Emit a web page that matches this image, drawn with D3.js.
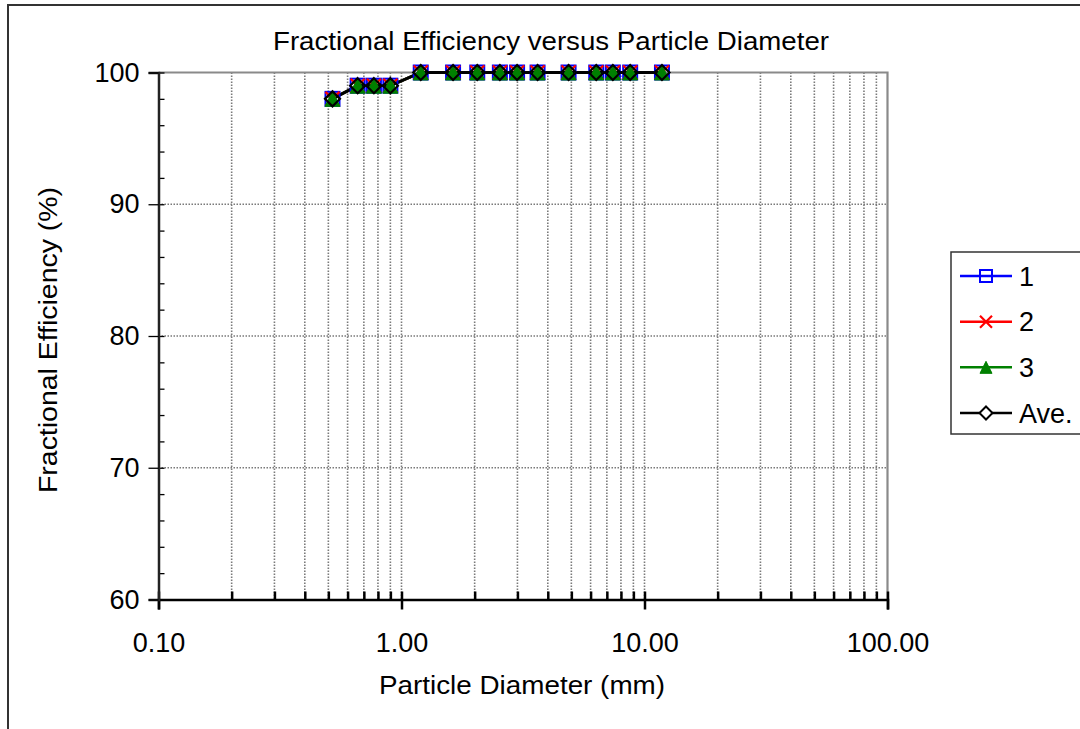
<!DOCTYPE html>
<html>
<head>
<meta charset="utf-8">
<script src="https://cdn.jsdelivr.net/npm/d3@7"></script>
<style>
  html, body { margin: 0; padding: 0; background: #fff; }
  svg { display: block; }
  text { font-family: "Liberation Sans", Arial, sans-serif; fill: #000; }
</style>
</head>
<body>
<svg id="chart" width="1080" height="729"></svg>
<script>
// ---- data ----
const diameters = [0.52, 0.66, 0.77, 0.90, 1.20, 1.63, 2.05, 2.54, 2.99, 3.63, 4.87, 6.33, 7.41, 8.73, 11.8];
const series1 = [98, 99, 99, 99, 100, 100, 100, 100, 100, 100, 100, 100, 100, 100, 100];
const series2 = [98, 99, 99, 99, 100, 100, 100, 100, 100, 100, 100, 100, 100, 100, 100];
const series3 = [98, 99, 99, 99, 100, 100, 100, 100, 100, 100, 100, 100, 100, 100, 100];
const seriesAve = [98, 99, 99, 99, 100, 100, 100, 100, 100, 100, 100, 100, 100, 100, 100];
const seriesNames = ["1", "2", "3", "Ave."];
const xMajorTicks = [0.1, 1, 10, 100];
const xTickLabels = ["0.10", "1.00", "10.00", "100.00"];
const yMajorTicks = [60, 70, 80, 90, 100];
const titleText = "Fractional Efficiency versus Particle Diameter";
const xTitle = "Particle Diameter (mm)";
const yTitle = "Fractional Efficiency (%)";

const svg = d3.select("#chart");

// outer chart border (extends off the right/bottom edges)
svg.append("path").attr("d", "M8,731 L8,5 L1082,5")
  .attr("fill", "none").attr("stroke", "#333").attr("stroke-width", 2);

const x = d3.scaleLog().domain([0.1, 100]).range([158.5, 887.5]);
const y = d3.scaleLinear().domain([60, 100]).range([599.5, 72.5]);

// minor x values
const xMinor = [];
[0.1, 1, 10].forEach(d => { for (let k = 2; k <= 9; k++) xMinor.push(+(d * k).toPrecision(3)); });
const xGrid = xMinor.concat([1, 10]);
const yMinor = d3.range(60, 100.01, 2);

// gridlines
const gridG = svg.append("g");
gridG.selectAll("line.vg").data(xGrid).join("line")
  .attr("x1", d => x(d)).attr("x2", d => x(d))
  .attr("y1", y(100)).attr("y2", y(60))
  .attr("stroke", "#7a7a7a").attr("stroke-width", 1.6).attr("stroke-dasharray", "1.5,1.5");
gridG.selectAll("line.hg").data([70, 80, 90]).join("line")
  .attr("x1", x(0.1)).attr("x2", x(100))
  .attr("y1", d => y(d)).attr("y2", d => y(d))
  .attr("stroke", "#7a7a7a").attr("stroke-width", 1.6).attr("stroke-dasharray", "1.5,1.5");

// plot border top & right (gray)
svg.append("path")
  .attr("d", `M${x(0.1)},${y(100)} L${x(100)},${y(100)} L${x(100)},${y(60)}`)
  .attr("fill", "none").attr("stroke", "#8a8a8a").attr("stroke-width", 2.2);

// x axis: minor ticks (upward)
const xMinorAxis = d3.axisBottom(x).tickValues(xMinor).tickSize(-8).tickFormat("");
svg.append("g").attr("transform", `translate(0,${y(60)})`).call(xMinorAxis)
  .call(g => g.select(".domain").remove())
  .call(g => g.selectAll("line").attr("stroke", "#000").attr("stroke-width", 2.5));
// x axis: major ticks (downward) with labels
const xMajorAxis = d3.axisBottom(x).tickValues(xMajorTicks).tickSize(10).tickPadding(23)
  .tickFormat((d, i) => xTickLabels[i]);
svg.append("g").attr("transform", `translate(0,${y(60)})`).call(xMajorAxis)
  .call(g => g.select(".domain").attr("stroke", "#000").attr("stroke-width", 2.5))
  .call(g => g.selectAll("line").attr("stroke", "#000").attr("stroke-width", 2.5).attr("y1", -8))
  .call(g => g.selectAll("text").attr("font-size", 27).attr("font-family", "Liberation Sans, Arial, sans-serif"));

// y axis: minor ticks (inward)
const yMinorAxis = d3.axisLeft(y).tickValues(yMinor).tickSize(-6).tickFormat("");
svg.append("g").attr("transform", `translate(${x(0.1)},0)`).call(yMinorAxis)
  .call(g => g.select(".domain").remove())
  .call(g => g.selectAll("line").attr("stroke", "#000").attr("stroke-width", 1.3));
const yMajorAxis = d3.axisLeft(y).tickValues(yMajorTicks).tickSize(10).tickPadding(9).tickFormat(d3.format("d"));
svg.append("g").attr("transform", `translate(${x(0.1)},0)`).call(yMajorAxis)
  .call(g => g.select(".domain").attr("stroke", "#222").attr("stroke-width", 2.5))
  .call(g => g.selectAll("line").attr("stroke", "#000").attr("stroke-width", 1.3))
  .call(g => g.selectAll("text").attr("font-size", 27).attr("font-family", "Liberation Sans, Arial, sans-serif"));

// series
const allSeries = [
  { name: seriesNames[0], vals: series1, color: "#0000ff", marker: "square" },
  { name: seriesNames[1], vals: series2, color: "#ff0000", marker: "x" },
  { name: seriesNames[2], vals: series3, color: "#008000", marker: "triangle" },
  { name: seriesNames[3], vals: seriesAve, color: "#000000", marker: "diamond" }
];

function drawMarker(g, type, color, s) {
  const h = s / 2;
  if (type === "square") {
    g.append("rect").attr("x", -h).attr("y", -h).attr("width", s).attr("height", s)
      .attr("fill", "none").attr("stroke", color).attr("stroke-width", 2);
  } else if (type === "x") {
    g.append("path").attr("d", `M${-h},${-h}L${h},${h}M${-h},${h}L${h},${-h}`)
      .attr("stroke", color).attr("stroke-width", 2.2).attr("fill", "none");
  } else if (type === "triangle") {
    g.append("path").attr("d", `M0,${-h}L${h},${h}L${-h},${h}Z`)
      .attr("fill", color).attr("stroke", color).attr("stroke-width", 1);
  } else if (type === "diamond") {
    g.append("path").attr("d", `M0,${-h}L${h},0L0,${h}L${-h},0Z`)
      .attr("fill", "none").attr("stroke", color).attr("stroke-width", 2.2);
  }
}

const line = d3.line().x(d => x(d[0])).y(d => y(d[1]));
allSeries.forEach(s => {
  const pts = diameters.map((d, i) => [d, s.vals[i]]);
  svg.append("path").datum(pts).attr("d", line)
    .attr("fill", "none").attr("stroke", s.color).attr("stroke-width", 2.8);
});
allSeries.forEach(s => {
  const size = s.marker === "triangle" ? 15 : (s.marker === "diamond" ? 15 : 14);
  diameters.forEach((d, i) => {
    const g = svg.append("g").attr("transform", `translate(${x(d)},${y(s.vals[i])})`);
    drawMarker(g, s.marker, s.color, size);
  });
});

// titles
svg.append("text").attr("x", 551).attr("y", 50).attr("text-anchor", "middle")
  .attr("font-size", 25).attr("textLength", 556).attr("lengthAdjust", "spacingAndGlyphs").text(titleText);
svg.append("text").attr("x", 522).attr("y", 694).attr("text-anchor", "middle")
  .attr("font-size", 26).attr("textLength", 286).attr("lengthAdjust", "spacingAndGlyphs").text(xTitle);
svg.append("text").attr("transform", "translate(57,340) rotate(-90)").attr("text-anchor", "middle")
  .attr("font-size", 25).attr("textLength", 306).attr("lengthAdjust", "spacingAndGlyphs").text(yTitle);

// legend
const lg = svg.append("g");
lg.append("rect").attr("x", 951).attr("y", 252).attr("width", 140).attr("height", 182)
  .attr("fill", "#fff").attr("stroke", "#333").attr("stroke-width", 1.5);
const legendY = d3.scalePoint().domain(seriesNames).range([276, 413]);
allSeries.forEach(s => {
  const yy = legendY(s.name);
  lg.append("line").attr("x1", 960).attr("x2", 1012).attr("y1", yy).attr("y2", yy)
    .attr("stroke", s.color).attr("stroke-width", 2.5);
  const g = lg.append("g").attr("transform", `translate(986,${yy})`);
  if (s.marker === "diamond") {
    g.append("path").attr("d", "M0,-6.5L6.5,0L0,6.5L-6.5,0Z").attr("fill", "#fff").attr("stroke", "#000").attr("stroke-width", 2);
  } else {
    drawMarker(g, s.marker, s.color, 12);
  }
  lg.append("text").attr("x", 1019).attr("y", yy).attr("dy", "0.36em")
    .attr("font-size", 27).text(s.name);
});
</script>
</body>
</html>
